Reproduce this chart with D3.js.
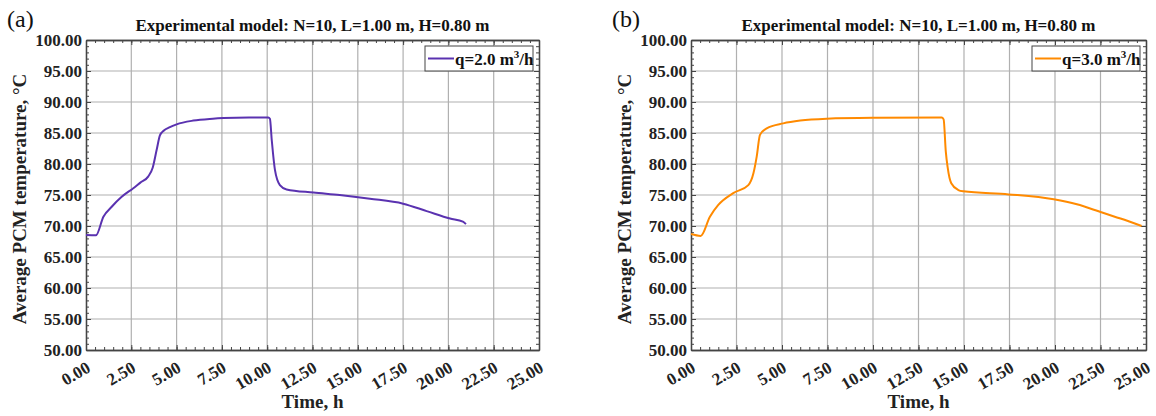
<!DOCTYPE html>
<html lang="en">
<head>
  <meta charset="UTF-8">
  <title>Average PCM temperature</title>
  <script src="https://d3js.org/d3.v7.min.js"></script>
  <style>
    body { margin: 0; background: #fff; }
    text { font-family: "Liberation Serif", "Times New Roman", serif; }
  </style>
</head>
<body>
  <svg width="1156" height="416"></svg>

  <script>
    // Data (time in h, temperature in °C)
    const timeA = [0, 0.55, 0.96, 1.42, 1.97, 2.61, 3.0, 3.44, 3.68, 3.90, 4.08, 4.3, 4.6, 5.0, 5.92, 7.0, 7.58, 9.0, 10.06,
                   10.15, 10.25, 10.43, 10.7, 11.07, 12.55, 14.0, 15.67, 17.5, 18.8, 20.09, 20.8, 20.97];
    const tempA = [68.55, 68.5, 71.5, 73.1, 74.7, 76.1, 77.0, 78.0, 79.4, 82.3, 84.6, 85.4, 85.9, 86.4, 87.0, 87.3, 87.4, 87.5, 87.5,
                   87.3, 83.9, 79.0, 76.6, 75.9, 75.4, 75.0, 74.4, 73.6, 72.4, 71.2, 70.7, 70.3];

    const timeB = [0, 0.53, 1.04, 1.5, 2.32, 3.15, 3.43, 3.61, 3.79, 4.16, 5.07, 6.0, 7.45, 10.0, 13.77,
                   13.88, 14.0, 14.1, 14.3, 14.69, 14.96, 17.45, 19.93, 21.2, 22.47, 23.6, 24.76];
    const tempB = [68.7, 68.4, 71.5, 73.4, 75.3, 76.6, 78.5, 81.2, 84.7, 85.75, 86.55, 87.0, 87.3, 87.45, 87.5,
                   87.2, 82.0, 79.5, 76.9, 75.8, 75.6, 75.1, 74.3, 73.5, 72.3, 71.2, 70.0];

    const xTicks = [0, 2.5, 5, 7.5, 10, 12.5, 15, 17.5, 20, 22.5, 25];
    const yTicks = [50, 55, 60, 65, 70, 75, 80, 85, 90, 95, 100];
    const title = "Experimental model: N=10, L=1.00 m, H=0.80 m";

    const panels = [
      { label: "(a)", left: 86, right: 539, time: timeA, temp: tempA, color: "#5a32b0", q: "2.0" },
      { label: "(b)", left: 691, right: 1146, time: timeB, temp: tempB, color: "#ff8a00", q: "3.0" }
    ];

    const plotTop = 40, plotBottom = 350;
    const svg = d3.select("svg");
    const fmt = d3.format(".2f");

    panels.forEach(p => {
      const w = p.right - p.left;
      const h = plotBottom - plotTop;
      const g = svg.append("g").attr("transform", `translate(${p.left},${plotTop})`);

      const x = d3.scaleLinear().domain([0, 25]).range([0, w]);
      const y = d3.scaleLinear().domain([50, 100]).range([h, 0]);

      const xMinor = d3.range(0, 25.01, 0.5);
      const yMinor = d3.range(50, 100.01, 1);

      // grid
      g.append("g").selectAll("line").data(xTicks.slice(1, -1)).join("line")
        .attr("x1", d => x(d)).attr("x2", d => x(d)).attr("y1", 0).attr("y2", h)
        .attr("stroke", "#b0b0b0").attr("stroke-width", 1.2);
      g.append("g").selectAll("line").data(yTicks.slice(1, -1)).join("line")
        .attr("y1", d => y(d)).attr("y2", d => y(d)).attr("x1", 0).attr("x2", w)
        .attr("stroke", "#b0b0b0").attr("stroke-width", 1.2);

      // axes with inward ticks
      const styleAxis = sel => {
        sel.select(".domain").attr("stroke", "#444").attr("stroke-width", 1.3);
        sel.selectAll(".tick line").attr("stroke", "#444");
      };

      g.append("g").attr("transform", `translate(0,${h})`)
        .call(d3.axisBottom(x).tickValues(xMinor).tickSize(-3).tickFormat("").tickSizeOuter(0)).call(styleAxis);
      g.append("g").call(d3.axisTop(x).tickValues(xMinor).tickSize(-3).tickFormat("").tickSizeOuter(0)).call(styleAxis);
      g.append("g").call(d3.axisLeft(y).tickValues(yMinor).tickSize(-3).tickFormat("").tickSizeOuter(0)).call(styleAxis);
      g.append("g").attr("transform", `translate(${w},0)`)
        .call(d3.axisRight(y).tickValues(yMinor).tickSize(-3).tickFormat("").tickSizeOuter(0)).call(styleAxis);

      const xAxis = g.append("g").attr("transform", `translate(0,${h})`)
        .call(d3.axisBottom(x).tickValues(xTicks).tickSize(-5).tickSizeOuter(0).tickFormat(fmt)).call(styleAxis);
      xAxis.selectAll("text")
        .attr("x", 0).attr("y", 0).attr("dy", 0)
        .attr("transform", "translate(5,21) rotate(-30)")
        .attr("text-anchor", "end")
        .attr("font-size", 17).attr("font-weight", "bold").attr("fill", "#222")
        .style("font-family", "Liberation Serif");

      const yAxis = g.append("g")
        .call(d3.axisLeft(y).tickValues(yTicks).tickSize(-5).tickSizeOuter(0).tickPadding(4).tickFormat(fmt)).call(styleAxis);
      yAxis.selectAll("text")
        .attr("font-size", 17).attr("font-weight", "bold").attr("fill", "#222")
        .style("font-family", "Liberation Serif");

      g.append("g").call(d3.axisTop(x).tickValues(xTicks).tickSize(-5).tickFormat("").tickSizeOuter(0)).call(styleAxis);
      g.append("g").attr("transform", `translate(${w},0)`)
        .call(d3.axisRight(y).tickValues(yTicks).tickSize(-5).tickFormat("").tickSizeOuter(0)).call(styleAxis);

      // curve
      const pts = p.time.map((t, i) => [t, p.temp[i]]);
      g.append("path").datum(pts)
        .attr("fill", "none").attr("stroke", p.color).attr("stroke-width", 2)
        .attr("d", d3.line().x(d => x(d[0])).y(d => y(d[1])).curve(d3.curveMonotoneX));

      // titles
      g.append("text").attr("x", w / 2).attr("y", -9).attr("text-anchor", "middle")
        .attr("font-size", 17).attr("font-weight", "bold").attr("fill", "#111").text(title);
      g.append("text").attr("x", w / 2).attr("y", h + 58).attr("text-anchor", "middle")
        .attr("font-size", 19).attr("font-weight", "bold").attr("fill", "#222").text("Time, h");
      g.append("text").attr("transform", `translate(-60,${h / 2 + 4}) rotate(-90)`).attr("text-anchor", "middle")
        .attr("font-size", 19).attr("font-weight", "bold").attr("fill", "#222").text("Average PCM temperature, °C");
      svg.append("text").attr("x", p.left - 79).attr("y", 27)
        .attr("font-size", 24).attr("fill", "#111").text(p.label);

      // legend
      const lg = g.append("g").attr("transform", `translate(${w - 114},6)`);
      lg.append("rect").attr("width", 108).attr("height", 25)
        .attr("fill", "#fff").attr("stroke", "#444").attr("stroke-width", 1);
      lg.append("line").attr("x1", 3).attr("x2", 29).attr("y1", 12.5).attr("y2", 12.5)
        .attr("stroke", p.color).attr("stroke-width", 2);
      const lt = lg.append("text").attr("x", 30).attr("y", 19)
        .attr("font-size", 17).attr("font-weight", "bold").attr("fill", "#111");
      lt.append("tspan").text(`q=${p.q} m`);
      lt.append("tspan").attr("dy", -7).attr("font-size", 11).text("3");
      lt.append("tspan").attr("dy", 7).text("/h");
    });
  </script>
</body>
</html>
